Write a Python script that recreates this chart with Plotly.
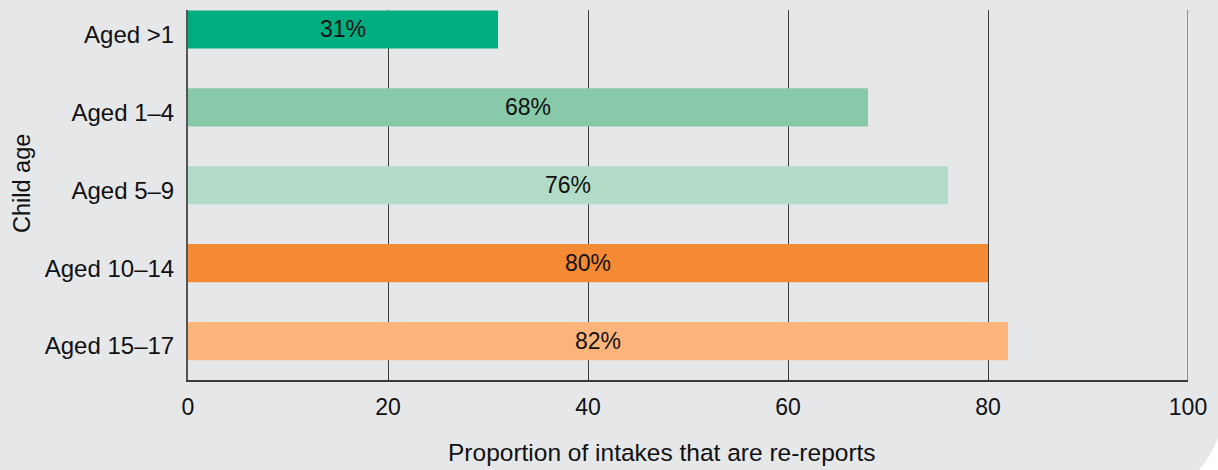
import plotly.graph_objects as go

# Share of intakes that are re-reports, by child age group
age_groups = ["Aged >1", "Aged 1\u20134", "Aged 5\u20139", "Aged 10\u201314", "Aged 15\u201317"]
re_report_pct = [31, 68, 76, 80, 82]
bar_colors = ["#00ae80", "#88c9aa", "#b2dcc7", "#f58a35", "#fdb47b"]
x_ticks = [0, 20, 40, 60, 80, 100]
x_title = "Proportion of intakes that are re-reports"
y_title = "Child age"

W, H = 1218, 470
M = dict(l=188, r=30, t=10, b=90)
BG = "#e6e7e9"
GRID = "#3c3c3c"
FONT = "Liberation Sans, Arial, Helvetica, sans-serif"


def to_paper(px, py):
    pw = W - M["l"] - M["r"]
    ph = H - M["t"] - M["b"]
    return (px - M["l"]) / pw, (H - M["b"] - py) / ph


fig = go.Figure(
    go.Bar(
        x=re_report_pct,
        y=age_groups,
        orientation="h",
        marker=dict(color=bar_colors, line=dict(width=0)),
        text=[f"{v}%" for v in re_report_pct],
        textposition="inside",
        insidetextanchor="middle",
        textangle=0,
        textfont=dict(family=FONT, size=23, color="#111111"),
        hoverinfo="skip",
    )
)

# rounded panel corner at the bottom right
p0 = to_paper(1218, 438)
pc = to_paper(1210, 458)
p1 = to_paper(1199, 470)
p2 = to_paper(1218, 470)
corner_path = (
    f"M {p0[0]},{p0[1]} Q {pc[0]},{pc[1]} {p1[0]},{p1[1]} "
    f"L {p2[0]},{p2[1]} Z"
)

xt = to_paper(662, 452)
yt = to_paper(22, 184)

fig.update_layout(
    width=W,
    height=H,
    margin=M,
    paper_bgcolor=BG,
    plot_bgcolor=BG,
    bargap=0.51,
    showlegend=False,
    font=dict(family=FONT, size=23, color="#111111"),
    shapes=[
        # gridline at the far end of the value axis
        dict(
            type="line", xref="x", yref="paper",
            x0=x_ticks[-1], x1=x_ticks[-1], y0=0, y1=1,
            line=dict(color=GRID, width=1), layer="below",
        ),
        dict(
            type="path",
            path=corner_path,
            xref="paper",
            yref="paper",
            fillcolor="white",
            line=dict(width=0),
            layer="above",
        ),
    ],
    annotations=[
        dict(
            text=x_title, x=xt[0], y=xt[1], xref="paper", yref="paper",
            showarrow=False, xanchor="center", yanchor="middle",
            font=dict(size=24.5),
        ),
        dict(
            text=y_title, x=yt[0], y=yt[1], xref="paper", yref="paper",
            showarrow=False, xanchor="center", yanchor="middle", textangle=-90,
            font=dict(size=23.5),
        ),
    ],
    xaxis=dict(
        range=[0, 100],
        tickvals=x_ticks,
        showgrid=True,
        gridcolor=GRID,
        gridwidth=1,
        zeroline=False,
        showline=True,
        linecolor="#3a3a3a",
        linewidth=2,
        ticks="",
        ticklabelstandoff=5,
        tickfont=dict(size=23),
        automargin=False,
        fixedrange=True,
    ),
    yaxis=dict(
        categoryorder="array",
        categoryarray=age_groups,
        range=[4.5, -0.25],
        showgrid=False,
        zeroline=False,
        showline=True,
        linecolor="#555555",
        linewidth=2,
        ticks="",
        ticklabelstandoff=7,
        ticklabelshift=-5,
        tickfont=dict(size=24),
        automargin=False,
        fixedrange=True,
    ),
)

fig.write_html("out.html", config={"displayModeBar": False})
